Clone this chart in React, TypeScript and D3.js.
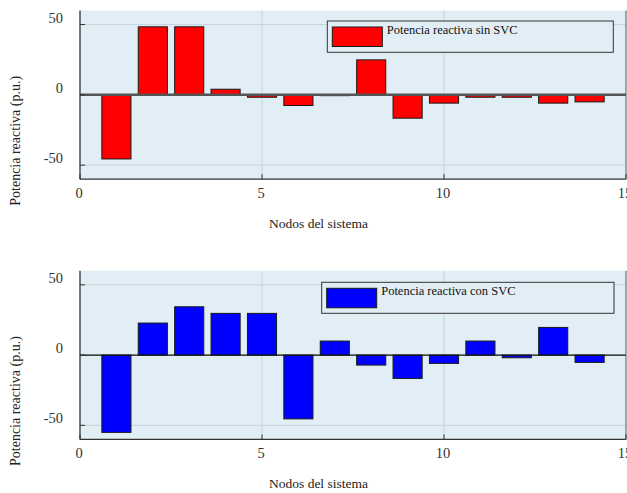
import * as d3 from "d3";

const nodos = [1, 2, 3, 4, 5, 6, 7, 8, 9, 10, 11, 12, 13, 14];
const qSinSVC = [-45.6, 48.4, 48.4, 4, -1.7, -7.6, -0.3, 24.9, -16.6, -5.9, -1.7, -1.7, -5.9, -5];
const qConSVC = [-55, 22.8, 34.4, 29.7, 29.7, -45.4, 10, -7.1, -16.6, -5.9, 10, -1.9, 19.7, -5.2];
const xTicks = [0, 5, 10, 15];
const yTicks = [-50, 0, 50];
const labelSin = "Potencia reactiva sin SVC";
const labelCon = "Potencia reactiva con SVC";
const xTitle = "Nodos del sistema";
const yTitle = "Potencia reactiva (p.u.)";

const W = 627;
const H = 493;
const font = "Liberation Serif, Times New Roman, Times, DejaVu Serif, serif";
const bg = "#e1eef5";
const gridColor = "#c6d3db";

type PanelProps = {
  values: number[];
  color: string;
  label: string;
  top: number;
  bottom: number;
  legend: { x0: number; x1: number; y0: number; y1: number };
  baseColor: string;
  baseWidth: number;
};

function Panel({ values, color, label, top, bottom, legend, baseColor, baseWidth }: PanelProps) {
  const x = d3.scaleLinear().domain([0, 15]).range([80, 626]);
  const y = d3.scaleLinear().domain([-60, 60]).range([bottom, top]);
  const barW = x(0.8) - x(0);

  return (
    <g style={{ fontFamily: font }}>
      <rect x={x(0)} y={top} width={x(15) - x(0)} height={bottom - top} fill={bg} />
      {/* grid */}
      {xTicks.filter((t) => t > 0 && t < 15).map((t) => (
        <line key={"gx" + t} x1={x(t)} x2={x(t)} y1={top} y2={bottom} stroke={gridColor} strokeWidth={1} />
      ))}
      {yTicks.map((t) => (
        <line key={"gy" + t} x1={x(0)} x2={x(15)} y1={y(t)} y2={y(t)} stroke={gridColor} strokeWidth={1} />
      ))}
      {/* bars */}
      {values.map((v, i) => (
        <rect
          key={i}
          x={x(nodos[i]) - barW / 2}
          y={y(Math.max(0, v))}
          width={barW}
          height={Math.max(0.8, Math.abs(y(v) - y(0)))}
          fill={color}
          stroke="#1a1a1a"
          strokeWidth={1}
        />
      ))}
      {/* baseline */}
      <line x1={x(0)} x2={x(15)} y1={y(0)} y2={y(0)} stroke={baseColor} strokeWidth={baseWidth} />
      {/* axes */}
      <line x1={x(0)} x2={x(0)} y1={top} y2={bottom} stroke="#333" strokeWidth={1.3} />
      <line x1={x(0)} x2={x(15)} y1={bottom} y2={bottom} stroke="#333" strokeWidth={1.3} />
      <line x1={x(15)} x2={x(15)} y1={top} y2={bottom} stroke="#555" strokeWidth={1} />
      {xTicks.map((t) => (
        <g key={"xt" + t}>
          <line x1={x(t)} x2={x(t)} y1={bottom} y2={bottom - 5} stroke="#333" strokeWidth={1} />
          <text x={x(t) - 1} y={bottom + 19} textAnchor="middle" fontSize={14.5} fill="#333">
            {t}
          </text>
        </g>
      ))}
      {yTicks.map((t) => (
        <g key={"yt" + t}>
          <line x1={x(0)} x2={x(0) + 5} y1={y(t)} y2={y(t)} stroke="#333" strokeWidth={1} />
          <text x={63} y={y(t) - 2} textAnchor="end" fontSize={14.5} fill="#333">
            {t}
          </text>
        </g>
      ))}
      {/* legend */}
      <rect
        x={legend.x0}
        y={legend.y0}
        width={legend.x1 - legend.x0}
        height={legend.y1 - legend.y0}
        fill={bg}
        stroke="#333"
        strokeWidth={1}
      />
      <rect
        x={legend.x0 + 5}
        y={legend.y0 + 6}
        width={50}
        height={19.5}
        fill={color}
        stroke="#1a1a1a"
        strokeWidth={1}
      />
      <text x={legend.x0 + 59.5} y={legend.y0 + 12.5} fontSize={12.5} fill="#111">
        {label}
      </text>
      {/* titles */}
      <text x={318.5} y={bottom + 49} textAnchor="middle" fontSize={13.5} fill="#222">
        {xTitle}
      </text>
      <text
        transform={`translate(20, ${y(0) + 46}) rotate(-90)`}
        textAnchor="middle"
        fontSize={14}
        fill="#222"
      >
        {yTitle}
      </text>
    </g>
  );
}

export default function App() {
  return (
    <svg
      width={W}
      height={H}
      style={{ position: "absolute", left: 0, top: 0, background: "#fff" }}
    >
      <Panel
        values={qSinSVC}
        color="#ff0000"
        label={labelSin}
        top={10.5}
        bottom={179.2}
        legend={{ x0: 327.3, x1: 613.3, y0: 21, y1: 52.3 }}
        baseColor="#555"
        baseWidth={2.5}
      />
      <Panel
        values={qConSVC}
        color="#0000ff"
        label={labelCon}
        top={270.8}
        bottom={439.4}
        legend={{ x0: 321.7, x1: 614, y0: 282.3, y1: 313.3 }}
        baseColor="#111"
        baseWidth={1.3}
      />
    </svg>
  );
}
